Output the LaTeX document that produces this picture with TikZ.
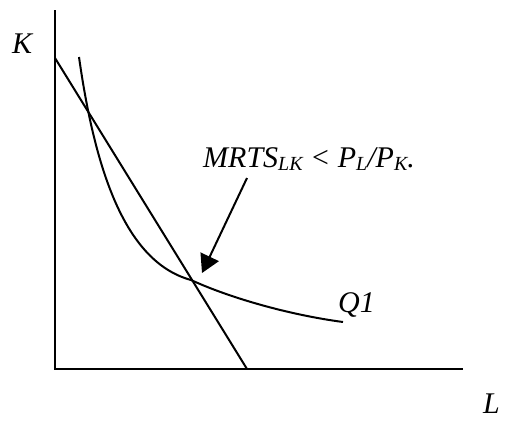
\documentclass[tikz,border=0pt]{standalone}
\usepackage{fontspec}
\setmainfont{Liberation Serif}
\usetikzlibrary{arrows.meta}
\newcommand\mysbs[1]{\raisebox{-3pt}{\fontsize{20}{20}\selectfont #1}}
\begin{document}
\begin{tikzpicture}[x=1pt,y=-1pt,
  axisline/.style={line width=2pt},
  curveline/.style={line width=2pt},
  lbl/.style={inner sep=0pt,anchor=base west,font=\fontsize{30}{36}\selectfont\itshape},
  pointer/.style={line width=2pt,-{Triangle[length=18pt,width=20pt]}}]
\useasboundingbox (0,0) rectangle (507,423);
% axes
\coordinate (ytop) at (55,10);
\coordinate (origin) at (55,369);
\coordinate (xend) at (463,369);
\draw[axisline] (ytop) -- (origin) -- (xend);
% budget (isocost) line
\coordinate (bA) at (55,58);
\coordinate (bB) at (247,369);
\draw[curveline] (bA) -- (bB);
% isoquant
\coordinate (q0) at (79,57);
\coordinate (q1) at (191,280);
\coordinate (q2) at (343,322);
\draw[curveline] (q0) .. controls (95,170) and (125,262) .. (q1)
                      .. controls (230,298) and (290,315) .. (q2);
% labels
\node[lbl] (K) at (12,53) {K};
\node[lbl] (L) at (483,413) {L};
\node[lbl] (Q) at (338,312) {Q1};
\node[lbl] (mrts) at (203,167) {MRTS\mysbs{LK} < P\mysbs{L}/P\mysbs{K}.};
% pointer arrow
\coordinate (ps) at (247,178);
\coordinate (pe) at (202,273);
\draw[pointer] (ps) -- (pe);
\end{tikzpicture}
\end{document}
